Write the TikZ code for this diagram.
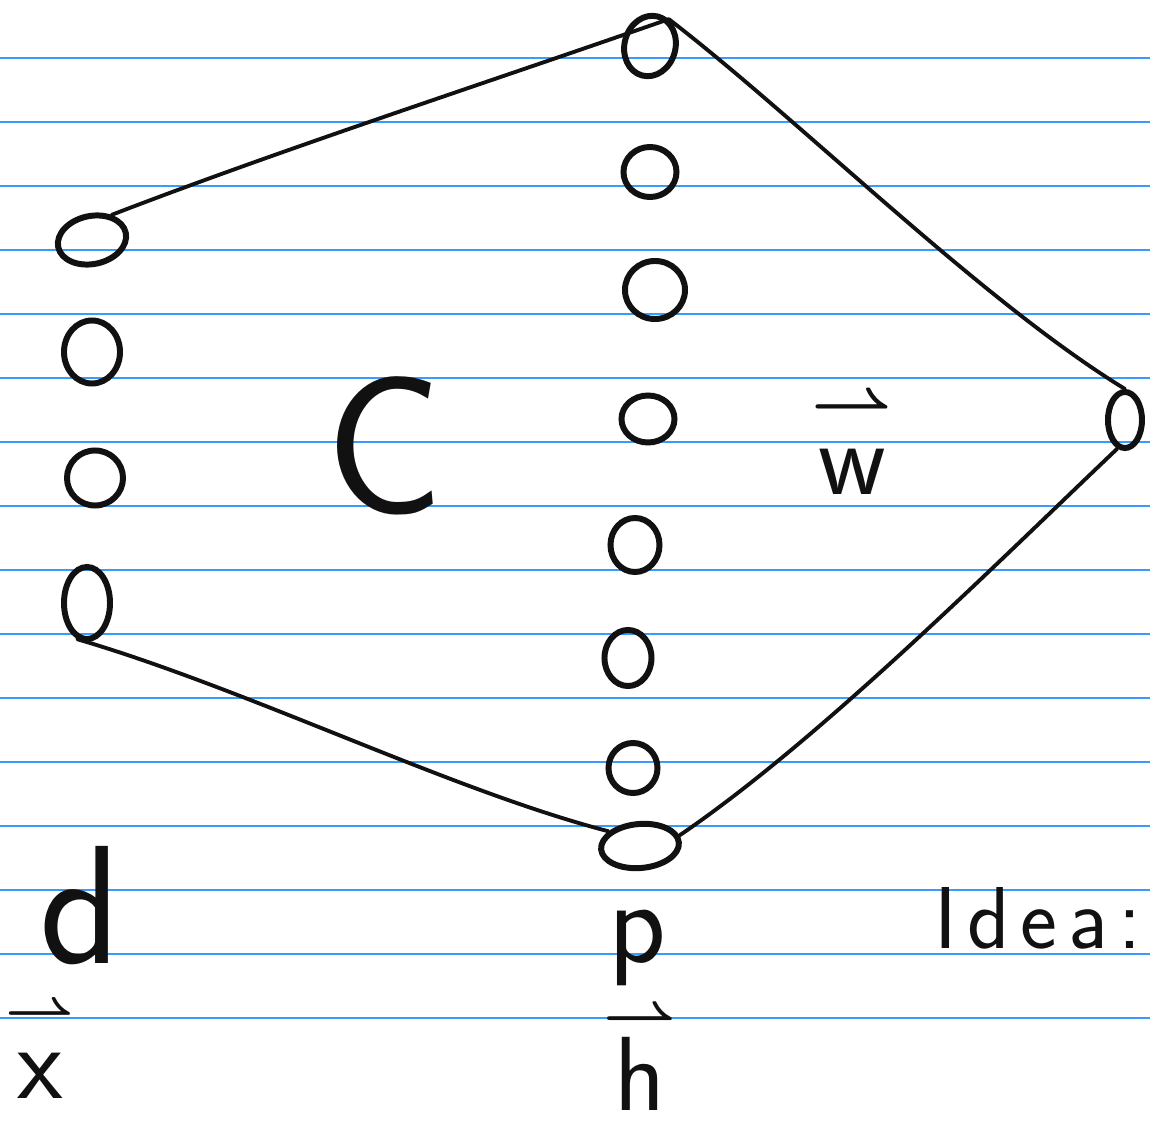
\documentclass[tikz,border=0pt]{standalone}
\usepackage{fix-cm}
\usepackage{fontspec}
\usepackage{tikz}
\usetikzlibrary{shapes.geometric}
\definecolor{SketchRule}{HTML}{3A9BFF}
\definecolor{SketchInk}{HTML}{111111}
\newcommand{\sketchvec}[3]{{\fontsize{#2}{#2}\selectfont\boldmath$\rightharpoonup$}\\[#3]{\fontsize{30}{30}\selectfont #1}}

\begin{document}
\begin{tikzpicture}[
  x=0.01cm,y=-0.01cm,
  unit/.style={draw=SketchInk,ellipse,line width=1.7pt,inner sep=0pt},
  wire/.style={draw=SketchInk,line width=1.1pt,line cap=round},
  ruling/.style={draw=SketchRule,line width=0.6pt},
  hand/.style={text=SketchInk,inner sep=0pt,font=\sffamily,align=center}
]
\useasboundingbox (0,0) rectangle (1150,1124);
% paper
\foreach \ry in {58,122,...,1018}
  \draw[ruling] (0,\ry) -- (1150,\ry);

% input layer
\node[unit,minimum width=0.69cm,minimum height=0.48cm,rotate=12] (in1) at (92,240) {};
\node[unit,minimum width=0.56cm,minimum height=0.63cm] (in2) at (92,352) {};
\node[unit,minimum width=0.56cm,minimum height=0.55cm] (in3) at (95,478) {};
\node[unit,minimum width=0.46cm,minimum height=0.72cm] (in4) at (87,603) {};

% hidden layer
\node[unit,minimum width=0.51cm,minimum height=0.61cm,rotate=-15] (hid1) at (650,46) {};
\node[unit,minimum width=0.53cm,minimum height=0.50cm] (hid2) at (650,172) {};
\node[unit,minimum width=0.60cm,minimum height=0.58cm] (hid3) at (655,290) {};
\node[unit,minimum width=0.53cm,minimum height=0.47cm] (hid4) at (648,419) {};
\node[unit,minimum width=0.49cm,minimum height=0.54cm] (hid5) at (635,545) {};
\node[unit,minimum width=0.47cm,minimum height=0.56cm] (hid6) at (628,658) {};
\node[unit,minimum width=0.49cm,minimum height=0.50cm] (hid7) at (633,768) {};
\node[unit,minimum width=0.78cm,minimum height=0.44cm,rotate=5] (hid8) at (640,846) {};

% output
\node[unit,minimum width=0.34cm,minimum height=0.56cm] (out) at (1125,420) {};

% connections
\draw[wire] (in1.40) .. controls (280,150) and (480,85) .. (hid1.70);
\draw[wire] (hid1.70) .. controls (800,120) and (980,300) .. (out.north);
\draw[wire] (out.255) .. controls (1000,560) and (820,740) .. (hid8.10);
\draw[wire] (in4.255) .. controls (250,690) and (450,790) .. (hid8.150);

% labels
\node[hand,font=\sffamily\fontsize{56}{60}\selectfont] (conn) at (385,446) {C};
\node[hand] (wvec) at (852,446) {\sketchvec{w}{20}{6pt}};
\node[hand,font=\sffamily\fontsize{48}{52}\selectfont] (dimd) at (80,906) {d};
\node[hand,font=\sffamily\fontsize{34}{40}\selectfont] (dimp) at (637,948) {p};
\node[hand] (xvec) at (40,1052) {\sketchvec{x}{17}{6pt}};
\node[hand] (hvec) at (640,1060) {\sketchvec{h}{18}{0pt}};
\node[hand,font=\sffamily\fontsize{25}{30}\selectfont] (idea) at (1038,918) {I\kern3pt d\kern3pt e\kern3pt a\kern3pt :};
\end{tikzpicture}
\end{document}
